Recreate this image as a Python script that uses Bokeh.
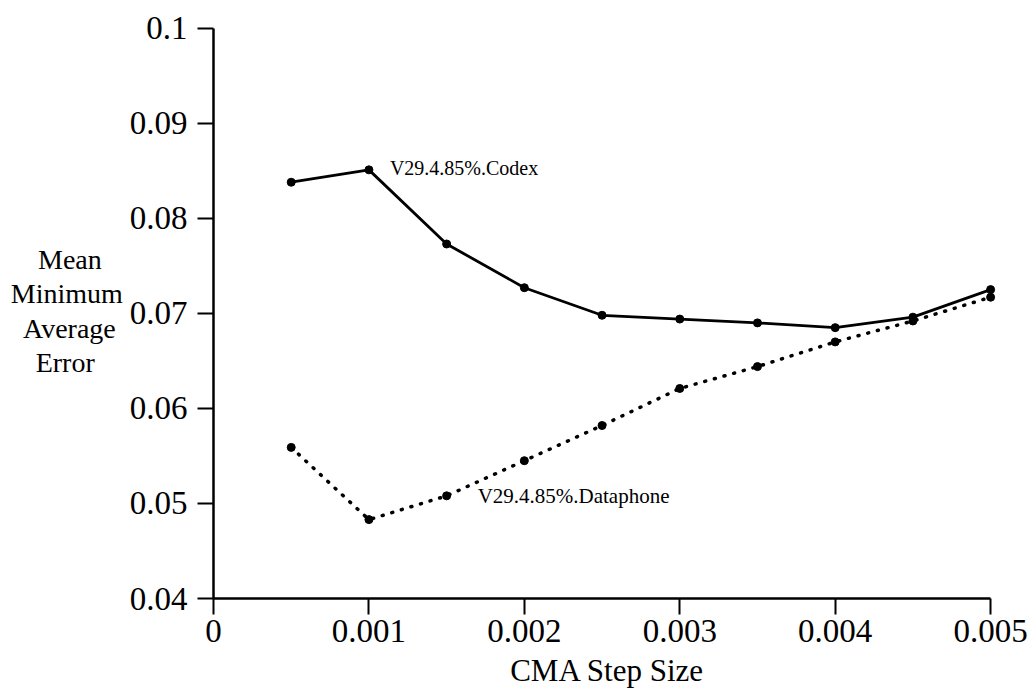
from bokeh.plotting import figure
from bokeh.models import FixedTicker, Label, Range1d
from bokeh.embed import file_html
from bokeh.resources import INLINE

# CMA step sizes and mean minimum average error per channel
step_size = [0.0005, 0.001, 0.0015, 0.002, 0.0025, 0.003, 0.0035, 0.004, 0.0045, 0.005]
codex = [0.0838, 0.0851, 0.0773, 0.0727, 0.0698, 0.0694, 0.0690, 0.0685, 0.0696, 0.0725]
dataphone = [0.0559, 0.0483, 0.0508, 0.0545, 0.0582, 0.0621, 0.0644, 0.0670, 0.0692, 0.0717]

codex_name = "V29.4.85%.Codex"
dataphone_name = "V29.4.85%.Dataphone"

x_ticks = [0, 0.001, 0.002, 0.003, 0.004, 0.005]
x_tick_labels = ["0", "0.001", "0.002", "0.003", "0.004", "0.005"]
y_ticks = [0.04, 0.05, 0.06, 0.07, 0.08, 0.09, 0.1]
y_tick_labels = ["0.04", "0.05", "0.06", "0.07", "0.08", "0.09", "0.1"]

x_title = "CMA Step Size"
y_title_lines = ["Mean", "Minimum", "Average", "Error"]

FONT = "Liberation Serif"
NBSP = "\u00a0"

p = figure(width=1032, height=690, output_backend="svg", toolbar_location=None,
           x_range=Range1d(0, 0.00507), y_range=Range1d(0.04, 0.1005),
           min_border_left=213, min_border_right=31, min_border_top=23,
           min_border_bottom=92)
p.outline_line_color = None
p.xgrid.visible = False
p.ygrid.visible = False
p.background_fill_color = "white"
p.border_fill_color = "white"

# axis lines stop at the last tick; the origin ticks make the axes cross
p.xaxis.bounds = (x_ticks[0], x_ticks[-1])
p.yaxis.bounds = (y_ticks[0], y_ticks[-1])
for ax, ticks, labels, standoff in ((p.xaxis, x_ticks, x_tick_labels, 5),
                                    (p.yaxis, y_ticks, y_tick_labels, 10)):
    ax.ticker = FixedTicker(ticks=ticks)
    ax.major_label_overrides = dict(zip(ticks, labels))
    ax.minor_tick_line_color = None
    ax.major_tick_in = 0
    ax.major_tick_out = 16
    ax.major_tick_line_width = 2
    ax.major_tick_line_color = "black"
    ax.axis_line_width = 2.5
    ax.axis_line_color = "black"
    ax.major_label_text_font = FONT
    ax.major_label_text_font_size = "33px"
    ax.major_label_text_color = "black"
    ax.major_label_standoff = standoff
    ax.axis_label_text_font = FONT
    ax.axis_label_text_font_style = "normal"
    ax.axis_label_text_color = "black"

p.xaxis.axis_label = x_title
p.xaxis.axis_label_text_font_size = "31px"
p.xaxis.axis_label_standoff = 8

# stacked horizontal title; trailing no-break spaces centre the shorter lines
pad = {"Mean": 3, "Minimum": 0, "Average": 1, "Error": 4}
p.yaxis.axis_label = "\n".join(w + NBSP * pad[w] for w in y_title_lines)
p.yaxis.axis_label_orientation = "horizontal"
p.yaxis.axis_label_text_font_size = "28px"
p.yaxis.axis_label_text_line_height = 1.1
p.yaxis.axis_label_standoff = 4

# Codex: solid line with dots
p.line(step_size, codex, line_color="black", line_width=2.8)
p.scatter(step_size, codex, size=8, color="black")

# Dataphone: dotted line with dots
p.line(step_size, dataphone, line_color="black", line_width=3.5,
       line_dash="1 9", line_cap="round")
p.scatter(step_size, dataphone, size=8, color="black")

p.add_layout(Label(x=step_size[1], y=codex[1], x_offset=21, y_offset=2,
                   text=codex_name, text_font=FONT, text_font_size="20px",
                   text_baseline="middle", text_color="black"))
p.add_layout(Label(x=step_size[2], y=dataphone[2], x_offset=31, y_offset=0,
                   text=dataphone_name, text_font=FONT, text_font_size="21px",
                   text_baseline="middle", text_color="black"))

open("out.html", "w").write(file_html(p, INLINE))
